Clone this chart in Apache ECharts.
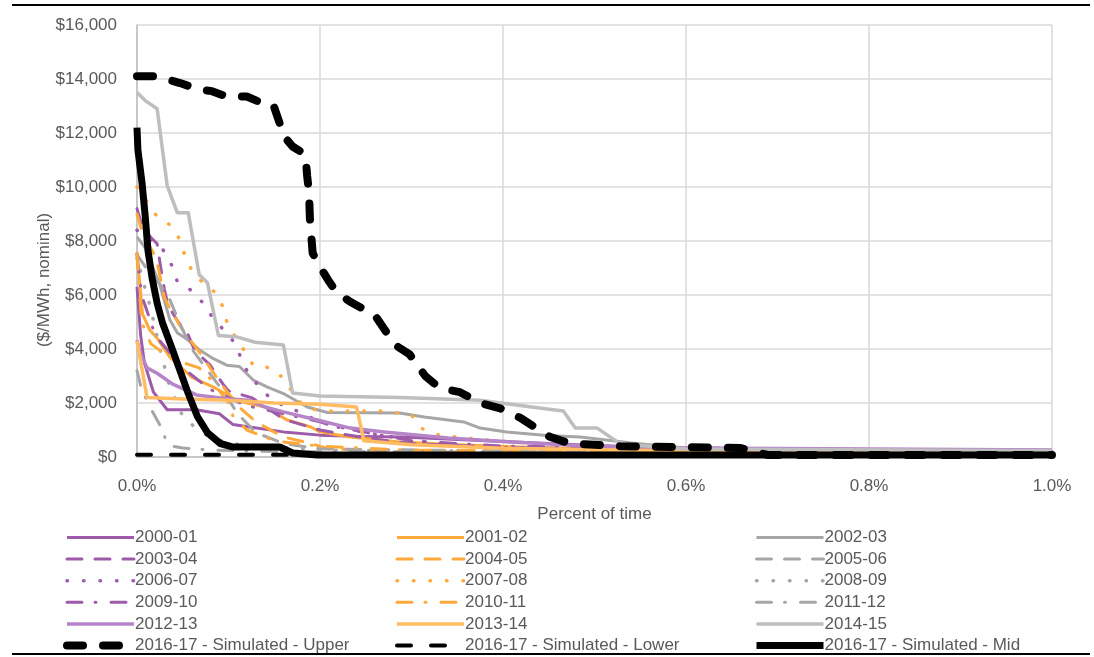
<!DOCTYPE html>
<html><head><meta charset="utf-8">
<script src="https://cdn.jsdelivr.net/npm/echarts@6/dist/echarts.min.js"></script>
<style>html,body{margin:0;padding:0;background:#fff}#c{width:1094px;height:657px}</style>
</head><body><div id="c"></div>
<script>
// ---- data (x = percent of time, y = $/MWh nominal) ----
const s2000_01 = [[0,6300],[0.004,4500],[0.008,3500],[0.018,2400],[0.033,1750],[0.065,1750],[0.09,1600],[0.105,1200],[0.123,1110],[0.16,930],[0.2,810],[0.244,760],[0.29,740],[0.35,650],[0.45,500],[0.55,350],[0.7,280],[1.0,230]];
const s2001_02 = [[0,7600],[0.006,5300],[0.014,4700],[0.022,4400],[0.036,3700],[0.06,2950],[0.083,2600],[0.109,2100],[0.12,2000],[0.14,1850],[0.164,1370],[0.19,1110],[0.2,930],[0.233,740],[0.287,560],[0.35,450],[0.45,330],[0.6,220],[1.0,150]];
const s2002_03 = [[0,8150],[0.011,7650],[0.014,7300],[0.025,6370],[0.036,5070],[0.044,4600],[0.055,4350],[0.069,3950],[0.083,3650],[0.098,3400],[0.112,3350],[0.127,2850],[0.142,2600],[0.16,2350],[0.186,1850],[0.208,1650],[0.287,1630],[0.314,1480],[0.357,1300],[0.375,1070],[0.404,930],[0.448,800],[0.484,740],[0.52,600],[0.54,520],[0.6,330],[0.8,280],[1.0,250]];
const s2003_04 = [[0,9200],[0.006,8500],[0.016,8100],[0.022,7900],[0.026,7000],[0.03,6200],[0.034,5600],[0.045,5000],[0.055,4600],[0.063,3950],[0.08,3400],[0.094,2700],[0.1,2450],[0.125,2200],[0.135,2000],[0.16,1400],[0.2,1000],[0.25,700],[0.3,500],[0.4,350],[0.6,250],[1.0,200]];
const s2004_05 = [[0,9000],[0.006,8300],[0.018,7550],[0.023,7050],[0.03,5900],[0.036,5500],[0.05,4700],[0.07,3800],[0.09,2800],[0.11,1900],[0.13,1300],[0.16,740],[0.19,500],[0.21,300],[0.3,200],[1.0,150]];
const s2005_06 = [[0,7500],[0.01,7000],[0.025,6400],[0.035,5900],[0.046,5000],[0.06,4000],[0.075,3300],[0.096,2350],[0.11,1600],[0.13,900],[0.16,500],[0.2,300],[0.4,220],[1.0,180]];
const s2006_07 = [[0,8400],[0.028,7700],[0.038,7100],[0.044,6500],[0.058,6200],[0.071,5750],[0.082,5200],[0.105,4300],[0.11,3950],[0.12,3200],[0.131,2700],[0.145,2200],[0.16,1900],[0.179,1650],[0.2,1300],[0.21,1200],[0.25,900],[0.3,630],[0.34,450],[0.4,350],[0.5,300],[1.0,200]];
const s2007_08 = [[0,10000],[0.012,9400],[0.022,8900],[0.036,8600],[0.046,8100],[0.052,7500],[0.06,6900],[0.072,6450],[0.087,6050],[0.094,5550],[0.099,4900],[0.118,3900],[0.127,3400],[0.146,3300],[0.161,2900],[0.175,2100],[0.19,1800],[0.2,1700],[0.27,1700],[0.28,1650],[0.3,1560],[0.31,1070],[0.33,810],[0.37,670],[0.45,450],[0.5,350],[1.0,200]];
const s2008_09 = [[0,7500],[0.005,6700],[0.01,6100],[0.015,5500],[0.025,4000],[0.035,2700],[0.05,1500],[0.07,900],[0.1,500],[0.2,250],[1.0,150]];
const s2009_10 = [[0,7400],[0.005,6000],[0.02,4500],[0.05,3300],[0.08,2500],[0.12,1900],[0.16,1600],[0.2,1300],[0.22,1100],[0.3,600],[0.4,400],[1.0,200]];
const s2010_11 = [[0,7500],[0.005,5000],[0.015,4200],[0.025,3950],[0.05,3500],[0.068,3300],[0.08,2900],[0.1,2000],[0.105,1500],[0.12,1000],[0.15,600],[0.2,400],[0.3,250],[1.0,150]];
const s2011_12 = [[0,3200],[0.005,2500],[0.015,1800],[0.028,1000],[0.033,440],[0.05,330],[0.08,260],[0.15,200],[1.0,150]];
const s2012_13 = [[0,4330],[0.003,3900],[0.011,3300],[0.022,3100],[0.039,2700],[0.065,2300],[0.1,2150],[0.123,2100],[0.14,1850],[0.16,1670],[0.197,1370],[0.233,1070],[0.27,930],[0.34,700],[0.41,560],[0.47,440],[0.6,330],[0.8,300],[1.0,260]];
const s2013_14 = [[0,4300],[0.011,2200],[0.05,2150],[0.1,2100],[0.15,2000],[0.2,1950],[0.24,1850],[0.248,600],[0.3,450],[0.4,320],[0.6,220],[1.0,160]];
const s2014_15 = [[0,13500],[0.009,13200],[0.022,12900],[0.033,10050],[0.044,9050],[0.056,9050],[0.068,6750],[0.077,6450],[0.089,4500],[0.109,4450],[0.129,4250],[0.16,4150],[0.17,2370],[0.2,2260],[0.287,2200],[0.375,2100],[0.444,1800],[0.466,1700],[0.479,1070],[0.503,1070],[0.525,560],[0.539,450],[0.6,300],[1.0,230]];
const simUpper = [[0,14100],[0.022,14100],[0.047,13850],[0.069,13600],[0.082,13550],[0.098,13350],[0.12,13350],[0.134,13150],[0.149,13050],[0.156,12350],[0.159,11950],[0.17,11500],[0.184,11200],[0.186,10400],[0.188,9800],[0.189,8800],[0.192,7550],[0.2,7050],[0.209,6550],[0.218,6100],[0.233,5750],[0.26,5250],[0.282,4150],[0.298,3800],[0.315,3000],[0.331,2550],[0.353,2400],[0.375,2000],[0.397,1800],[0.419,1450],[0.451,750],[0.473,500],[0.528,400],[0.593,370],[0.66,330],[0.675,200],[0.69,70],[1.0,70]];
const simLower = [[0,80],[0.2,80],[0.5,80],[1.0,80]];
const simMid = [[0,12200],[0.001,11370],[0.0055,10150],[0.009,8900],[0.012,7650],[0.0164,6650],[0.022,5700],[0.028,4950],[0.038,4050],[0.047,3200],[0.056,2350],[0.066,1500],[0.077,900],[0.091,500],[0.105,370],[0.156,370],[0.17,150],[0.197,70],[1.0,70]];

const xTicks = [0, 0.2, 0.4, 0.6, 0.8, 1.0];
const yTicks = [0, 2000, 4000, 6000, 8000, 10000, 12000, 14000, 16000];

const PURPLE = '#9E5BAA', PURPLE_L = '#B585C8';
const ORANGE = '#FFA93A', ORANGE_L = '#FFBC62';
const GRAY = '#A6A6A6', GRAY_L = '#BEBEBE';
const DASH = [15, 13], DOT = [0.5, 16], DASHDOT = [15, 13, 1, 15];

const defs = [
  ['2000-01', s2000_01, PURPLE, 'solid', 3],
  ['2001-02', s2001_02, ORANGE, 'solid', 3],
  ['2002-03', s2002_03, GRAY, 'solid', 3],
  ['2003-04', s2003_04, PURPLE, DASH, 3],
  ['2004-05', s2004_05, ORANGE, DASH, 3],
  ['2005-06', s2005_06, GRAY, DASH, 3],
  ['2006-07', s2006_07, PURPLE, DOT, 3.5],
  ['2007-08', s2007_08, ORANGE, DOT, 3.5],
  ['2008-09', s2008_09, GRAY, DOT, 3.5],
  ['2009-10', s2009_10, PURPLE, DASHDOT, 3],
  ['2010-11', s2010_11, ORANGE, DASHDOT, 3],
  ['2011-12', s2011_12, GRAY, DASHDOT, 3],
  ['2012-13', s2012_13, PURPLE_L, 'solid', 3.5],
  ['2013-14', s2013_14, ORANGE_L, 'solid', 3.5],
  ['2014-15', s2014_15, GRAY_L, 'solid', 3.5],
  ['2016-17 - Simulated - Upper', simUpper, '#000', [16, 20], 8],
  ['2016-17 - Simulated - Lower', simLower, '#000', [14, 20], 4],
  ['2016-17 - Simulated - Mid', simMid, '#000', 'solid', 7]
];

const FONT = '"Liberation Sans", Arial, sans-serif';
const TXT = '#595959';
const FS = 17;

const capOf = t => (Array.isArray(t) ? 'round' : 'butt');
const series = defs.map(d => ({
  name: d[0], type: 'line', data: d[1], symbol: 'none', smooth: false,
  lineStyle: { color: d[2], type: d[3], width: d[4], cap: capOf(d[3]), join: 'round' },
  itemStyle: { color: d[2] }, animation: false
}));

const cols = [[], [], []];
defs.forEach((d, i) => cols[i % 3].push({
  name: d[0],
  lineStyle: { color: d[2], type: d[3], width: d[4], cap: capOf(d[3]) },
  itemStyle: { opacity: 0, borderWidth: 0 }
}));
const colX = [63, 395, 753];
const legends = cols.map((items, i) => ({
  data: items, orient: 'vertical', left: colX[i], top: 529, height: 128,
  itemWidth: 67, itemHeight: 17, itemGap: 4.6, padding: 0,
  itemStyle: { opacity: 0, borderWidth: 0 },
  textStyle: { fontFamily: FONT, fontSize: FS, color: TXT, padding: [0, 0, 0, -4] },
  selectedMode: false
}));

const chart = echarts.init(document.getElementById('c'), null, { renderer: 'canvas' });
chart.setOption({
  backgroundColor: '#fff',
  animation: false,
  grid: { left: 137, right: 42, top: 25, bottom: 200 },
  xAxis: {
    type: 'value', min: 0, max: 1, interval: 0.2,
    name: 'Percent of time', nameLocation: 'middle', nameGap: 49,
    nameTextStyle: { fontFamily: FONT, fontSize: FS, color: TXT },
    axisLine: { show: true, lineStyle: { color: '#BFBFBF', width: 1.5 } },
    axisTick: { show: false },
    axisLabel: { margin: 21, fontFamily: FONT, fontSize: FS, color: TXT,
      customValues: xTicks, formatter: v => v.toFixed(1) + '%' },
    splitLine: { show: true, lineStyle: { color: '#D9D9D9', width: 1.5 } }
  },
  yAxis: {
    type: 'value', min: 0, max: 16000, interval: 2000,
    name: '($/MWh, nominal)', nameLocation: 'middle', nameGap: 84, nameRotate: 90,
    nameMoveOverlap: false,
    nameTextStyle: { fontFamily: FONT, fontSize: FS, color: TXT, padding: [0, 78, 0, 0] },
    axisLine: { show: true, lineStyle: { color: '#BFBFBF', width: 1.5 } },
    axisTick: { show: false },
    axisLabel: { margin: 20, fontFamily: FONT, fontSize: FS, color: TXT,
      customValues: yTicks, formatter: v => '$' + v.toLocaleString('en-US') },
    splitLine: { show: true, lineStyle: { color: '#D9D9D9', width: 1.5 } }
  },
  legend: legends,
  graphic: [
    { type: 'line', shape: { x1: 12, y1: 5, x2: 1090, y2: 5 }, style: { stroke: '#000', lineWidth: 2 } },
    { type: 'line', shape: { x1: 12, y1: 654, x2: 1090, y2: 654 }, style: { stroke: '#000', lineWidth: 2 } }
  ],
  series: series
});
</script></body></html>
